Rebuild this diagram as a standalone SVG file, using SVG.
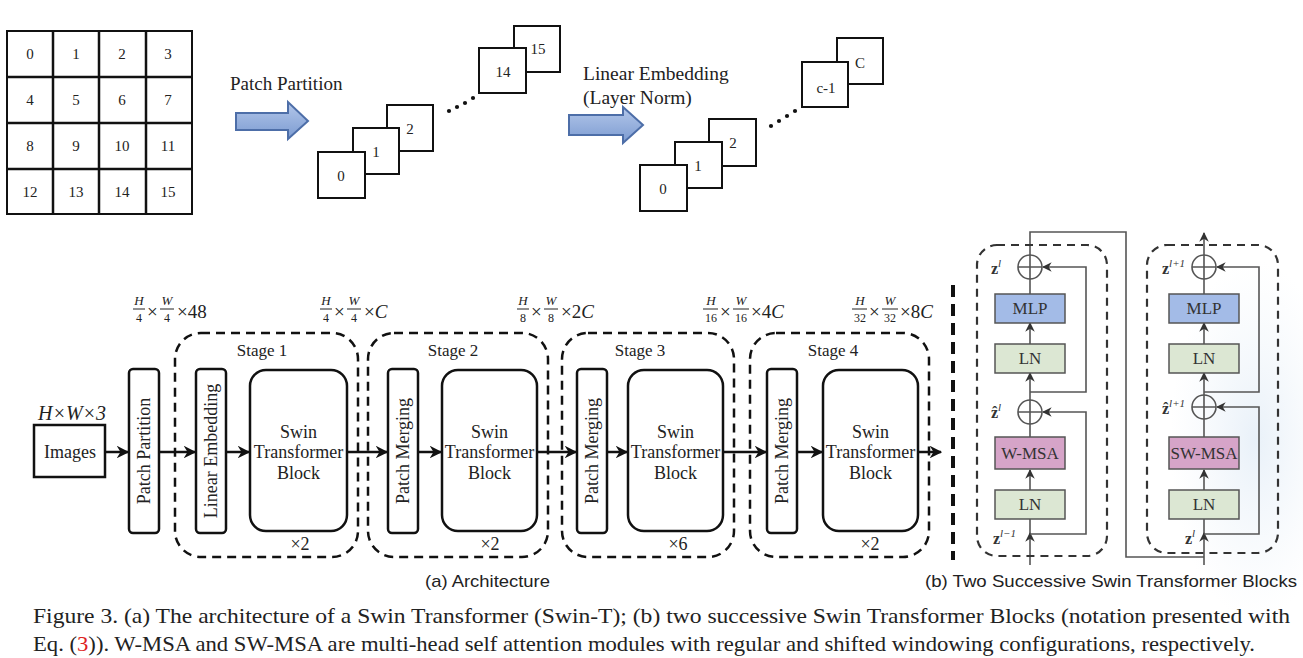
<svg xmlns="http://www.w3.org/2000/svg" width="1303" height="658" viewBox="0 0 1303 658">
<defs>
<style>
.s{font-family:"Liberation Serif","Times New Roman",serif;fill:#222}
.ss{font-family:"Liberation Sans",Arial,sans-serif;fill:#222}
.c{text-anchor:middle}
.box{fill:#fff;stroke:#111;stroke-width:2.5}
.thin{fill:#fff;stroke:#111;stroke-width:2}
.stage{fill:none;stroke:#111;stroke-width:2.5;stroke-dasharray:9 6}
.conn{fill:none;stroke:#111;stroke-width:2.5}
.g{fill:none;stroke:#555;stroke-width:1.6}
.bd{fill:none;stroke:#333;stroke-width:2.2;stroke-dasharray:8 6}
.mlp{fill:#a3bbe7;stroke:#555;stroke-width:1.5}
.ln{fill:#dce7d3;stroke:#555;stroke-width:1.5}
.msa{fill:#d6a4c8;stroke:#555;stroke-width:1.5}
.blk{font-family:"Liberation Serif","Times New Roman",serif;font-size:17px;fill:#333;text-anchor:middle}
.barrow{fill:url(#bg);stroke:#4d6ea8;stroke-width:2}
.fn{font-family:"Liberation Serif",serif;font-style:italic;font-size:13px;text-anchor:middle;fill:#222}
.fd{font-family:"Liberation Serif",serif;font-size:12px;text-anchor:middle;fill:#222}
.fx{font-family:"Liberation Serif",serif;font-size:19px;fill:#222}
.zl{font-family:"Liberation Serif",serif;font-weight:bold;font-size:16px;fill:#333}
</style>
<linearGradient id="bg" x1="0" y1="0" x2="0" y2="1">
<stop offset="0" stop-color="#b3c7ea"/><stop offset="1" stop-color="#7c9bd1"/>
</linearGradient>
<radialGradient id="haze" cx="0.5" cy="0.5" r="0.5">
<stop offset="0" stop-color="#e3edf7" stop-opacity="0.8"/><stop offset="1" stop-color="#eef4fa" stop-opacity="0"/>
</radialGradient>
<marker id="ah" viewBox="0 0 10 10" refX="9" refY="5" markerWidth="5" markerHeight="5" orient="auto" markerUnits="strokeWidth">
<path d="M0,0 L10,5 L0,10 L3,5 z" fill="#111"/>
</marker>
<marker id="ag" viewBox="0 0 10 10" refX="9" refY="5" markerWidth="6" markerHeight="6" orient="auto" markerUnits="strokeWidth">
<path d="M0,0 L10,5 L0,10 L3,5 z" fill="#333"/>
</marker>
</defs>
<rect width="1303" height="658" fill="#fff"/>
<ellipse cx="1255" cy="440" rx="85" ry="180" fill="url(#haze)"/>

<!-- top grid -->
<g id="grid">
<rect x="7" y="31" width="185" height="183" class="thin"/>
<path d="M53,31V214M99,31V214M146,31V214M7,77H192M7,123H192M7,169H192" class="conn" stroke-width="2"/>
<g class="s c" font-size="15">
<text x="30" y="59">0</text><text x="76" y="59">1</text><text x="122" y="59">2</text><text x="168" y="59">3</text>
<text x="30" y="105">4</text><text x="76" y="105">5</text><text x="122" y="105">6</text><text x="168" y="105">7</text>
<text x="30" y="151">8</text><text x="76" y="151">9</text><text x="122" y="151">10</text><text x="168" y="151">11</text>
<text x="30" y="197">12</text><text x="76" y="197">13</text><text x="122" y="197">14</text><text x="168" y="197">15</text>
</g>
</g>

<g id="patch-partition-top">
<text x="230" y="90" class="s" font-size="19">Patch Partition</text>
<path d="M236,113H288V102L308,121L288,139V130H236Z" class="barrow"/>
</g>

<g id="patches">
<rect x="387" y="105" width="46" height="46" class="thin"/>
<rect x="353" y="128" width="46" height="46" class="thin"/>
<rect x="318" y="152" width="47" height="46" class="thin"/>
<rect x="514" y="26" width="46" height="46" class="thin"/>
<rect x="479" y="48" width="47" height="45" class="thin"/>
<g class="s c" font-size="15">
<text x="341" y="181">0</text><text x="376" y="157">1</text><text x="410" y="134">2</text>
<text x="503" y="77">14</text><text x="538" y="54">15</text>
</g>
<g fill="#111"><circle cx="449" cy="111" r="2.1"/><circle cx="457" cy="107" r="2.1"/><circle cx="465" cy="103" r="2.1"/><circle cx="473" cy="98" r="2.1"/></g>
</g>

<g id="linear-embedding-top">
<text x="583" y="80" class="s" font-size="19.5">Linear Embedding</text>
<text x="583" y="104" class="s" font-size="19.5">(Layer Norm)</text>
<path d="M569,115H623V107L643,125L623,143V135H569Z" class="barrow"/>
</g>

<g id="channels">
<rect x="709" y="119" width="47" height="47" class="thin"/>
<rect x="675" y="142" width="47" height="46" class="thin"/>
<rect x="640" y="165" width="47" height="46" class="thin"/>
<rect x="837" y="38" width="46" height="46" class="thin"/>
<rect x="802" y="62" width="46" height="45" class="thin"/>
<g class="s c" font-size="15">
<text x="663" y="194">0</text><text x="698" y="171">1</text><text x="733" y="148">2</text>
<text x="826" y="93">c-1</text><text x="860" y="68">C</text>
</g>
<g fill="#111"><circle cx="771" cy="126" r="2.1"/><circle cx="779" cy="121" r="2.1"/><circle cx="787" cy="116" r="2.1"/><circle cx="795" cy="111" r="2.1"/></g>
</g>

<!-- dimension labels -->
<g id="dims">
<g transform="translate(133,0)">
<text class="fn" x="6" y="305">H</text><line x1="0" y1="309" x2="12" y2="309" stroke="#222"/><text class="fd" x="6" y="322">4</text>
<text class="fx" x="14" y="318">×</text>
<text class="fn" x="34" y="305">W</text><line x1="27" y1="309" x2="41" y2="309" stroke="#222"/><text class="fd" x="34" y="322">4</text>
<text class="fx" x="44" y="318">×48</text>
</g>
<g transform="translate(320,0)">
<text class="fn" x="6" y="305">H</text><line x1="0" y1="309" x2="12" y2="309" stroke="#222"/><text class="fd" x="6" y="322">4</text>
<text class="fx" x="14" y="318">×</text>
<text class="fn" x="34" y="305">W</text><line x1="27" y1="309" x2="41" y2="309" stroke="#222"/><text class="fd" x="34" y="322">4</text>
<text class="fx" x="44" y="318">×<tspan font-style="italic">C</tspan></text>
</g>
<g transform="translate(517,0)">
<text class="fn" x="6" y="305">H</text><line x1="0" y1="309" x2="12" y2="309" stroke="#222"/><text class="fd" x="6" y="322">8</text>
<text class="fx" x="14" y="318">×</text>
<text class="fn" x="34" y="305">W</text><line x1="27" y1="309" x2="41" y2="309" stroke="#222"/><text class="fd" x="34" y="322">8</text>
<text class="fx" x="44" y="318">×2<tspan font-style="italic">C</tspan></text>
</g>
<g transform="translate(703,0)">
<text class="fn" x="8" y="305">H</text><line x1="0" y1="309" x2="15" y2="309" stroke="#222"/><text class="fd" x="8" y="322">16</text>
<text class="fx" x="17" y="318">×</text>
<text class="fn" x="38" y="305">W</text><line x1="30" y1="309" x2="46" y2="309" stroke="#222"/><text class="fd" x="38" y="322">16</text>
<text class="fx" x="48" y="318">×4<tspan font-style="italic">C</tspan></text>
</g>
<g transform="translate(852,0)">
<text class="fn" x="8" y="305">H</text><line x1="0" y1="309" x2="15" y2="309" stroke="#222"/><text class="fd" x="8" y="322">32</text>
<text class="fx" x="17" y="318">×</text>
<text class="fn" x="38" y="305">W</text><line x1="30" y1="309" x2="46" y2="309" stroke="#222"/><text class="fd" x="38" y="322">32</text>
<text class="fx" x="48" y="318">×8<tspan font-style="italic">C</tspan></text>
</g>
</g>

<!-- stages -->
<g id="stage1">
<rect x="175" y="333" width="183" height="224" rx="26" class="stage"/>
<text x="262" y="356" class="s c" font-size="17">Stage 1</text>
<text x="300" y="550" class="s c" font-size="18">×2</text>
</g>
<g id="stage2">
<rect x="368" y="333" width="180" height="224" rx="26" class="stage"/>
<text x="453" y="356" class="s c" font-size="17">Stage 2</text>
<text x="490" y="550" class="s c" font-size="18">×2</text>
</g>
<g id="stage3">
<rect x="562" y="333" width="172" height="224" rx="26" class="stage"/>
<text x="640" y="356" class="s c" font-size="17">Stage 3</text>
<text x="678" y="550" class="s c" font-size="18">×6</text>
</g>
<g id="stage4">
<rect x="750" y="333" width="179" height="224" rx="26" class="stage"/>
<text x="833" y="356" class="s c" font-size="17">Stage 4</text>
<text x="870" y="550" class="s c" font-size="18">×2</text>
</g>

<g id="images">
<text x="72" y="420" class="s c" font-size="20" font-style="italic">H×W×3</text>
<rect x="34" y="425" width="71" height="52" class="box"/>
<text x="70" y="458" class="s c" font-size="18">Images</text>
</g>

<g id="patch-partition">
<rect x="129" y="369" width="30" height="164" rx="4" class="box"/>
<text transform="translate(150,451) rotate(-90)" class="s c" font-size="18">Patch Partition</text>
</g>
<g id="linear-embedding">
<rect x="196" y="369" width="30" height="164" rx="4" class="box"/>
<text transform="translate(217,451) rotate(-90)" class="s c" font-size="18">Linear Embedding</text>
</g>
<g id="stb1">
<rect x="250" y="370" width="97" height="161" rx="16" class="box"/>
<text class="s c" font-size="18"><tspan x="298.5" y="438">Swin</tspan><tspan x="298.5" y="458">Transformer</tspan><tspan x="298.5" y="479">Block</tspan></text>
</g>
<g id="pm2">
<rect x="388" y="369" width="30" height="164" rx="4" class="box"/>
<text transform="translate(409,451) rotate(-90)" class="s c" font-size="18">Patch Merging</text>
</g>
<g id="stb2">
<rect x="442" y="370" width="95" height="161" rx="16" class="box"/>
<text class="s c" font-size="18"><tspan x="489.5" y="438">Swin</tspan><tspan x="489.5" y="458">Transformer</tspan><tspan x="489.5" y="479">Block</tspan></text>
</g>
<g id="pm3">
<rect x="577" y="369" width="30" height="164" rx="4" class="box"/>
<text transform="translate(598,451) rotate(-90)" class="s c" font-size="18">Patch Merging</text>
</g>
<g id="stb3">
<rect x="628" y="370" width="95" height="161" rx="16" class="box"/>
<text class="s c" font-size="18"><tspan x="675.5" y="438">Swin</tspan><tspan x="675.5" y="458">Transformer</tspan><tspan x="675.5" y="479">Block</tspan></text>
</g>
<g id="pm4">
<rect x="767" y="369" width="30" height="164" rx="4" class="box"/>
<text transform="translate(788,451) rotate(-90)" class="s c" font-size="18">Patch Merging</text>
</g>
<g id="stb4">
<rect x="823" y="370" width="95" height="161" rx="16" class="box"/>
<text class="s c" font-size="18"><tspan x="870.5" y="438">Swin</tspan><tspan x="870.5" y="458">Transformer</tspan><tspan x="870.5" y="479">Block</tspan></text>
</g>

<g id="connectors">
<line x1="105" y1="452" x2="128" y2="452" class="conn" marker-end="url(#ah)"/>
<line x1="159" y1="452" x2="195" y2="452" class="conn" marker-end="url(#ah)"/>
<line x1="226" y1="452" x2="249" y2="452" class="conn" marker-end="url(#ah)"/>
<line x1="347" y1="452" x2="387" y2="452" class="conn" marker-end="url(#ah)"/>
<line x1="418" y1="452" x2="441" y2="452" class="conn" marker-end="url(#ah)"/>
<line x1="537" y1="452" x2="576" y2="452" class="conn" marker-end="url(#ah)"/>
<line x1="607" y1="452" x2="627" y2="452" class="conn" marker-end="url(#ah)"/>
<line x1="723" y1="452" x2="766" y2="452" class="conn" marker-end="url(#ah)"/>
<line x1="797" y1="452" x2="822" y2="452" class="conn" marker-end="url(#ah)"/>
<line x1="918" y1="452" x2="941" y2="452" class="conn" marker-end="url(#ah)"/>
<!-- right panel lines -->
<path d="M1030,565V533" class="g" marker-end="url(#ag)"/>
<path d="M1030,533V518" class="g"/>
<path d="M1030,490V470" class="g" marker-end="url(#ag)"/>
<path d="M1030,437V424" class="g"/>
<path d="M1030,400V373" class="g" marker-end="url(#ag)"/>
<path d="M1030,344V323" class="g" marker-end="url(#ag)"/>
<path d="M1030,294V279" class="g"/>
<path d="M1030,534H1086V412H1043" class="g" marker-end="url(#ag)"/>
<path d="M1030,392H1086V267H1043" class="g" marker-end="url(#ag)"/>
<path d="M1030,255V232H1126V557H1204" class="g"/>
<path d="M1204,565V533" class="g" marker-end="url(#ag)"/>
<path d="M1204,533V518" class="g"/>
<path d="M1204,490V470" class="g" marker-end="url(#ag)"/>
<path d="M1204,437V419" class="g"/>
<path d="M1204,395V373" class="g" marker-end="url(#ag)"/>
<path d="M1204,344V323" class="g" marker-end="url(#ag)"/>
<path d="M1204,294V279" class="g"/>
<path d="M1204,534H1259V407H1217" class="g" marker-end="url(#ag)"/>
<path d="M1204,392H1259V267H1217" class="g" marker-end="url(#ag)"/>
<path d="M1204,255V233" class="g" marker-end="url(#ag)"/>
</g>

<g id="separator">
<line x1="953" y1="285" x2="953" y2="560" stroke="#111" stroke-width="4" stroke-dasharray="12 7"/>
</g>

<g id="block1">
<rect x="977" y="245" width="130" height="311" rx="20" class="bd"/>
<circle cx="1030" cy="267" r="12" fill="none" stroke="#555" stroke-width="1.6"/>
<path d="M1018,267H1042M1030,255V279" class="g"/>
<circle cx="1030" cy="412" r="12" fill="none" stroke="#555" stroke-width="1.6"/>
<path d="M1018,412H1042M1030,400V424" class="g"/>
<rect x="995" y="294" width="70" height="29" class="mlp"/><text x="1030" y="314" class="blk">MLP</text>
<rect x="995" y="344" width="70" height="29" class="ln"/><text x="1030" y="364" class="blk">LN</text>
<rect x="995" y="437" width="70" height="32" class="msa"/><text x="1030" y="459" class="blk">W-MSA</text>
<rect x="995" y="490" width="70" height="29" class="ln"/><text x="1030" y="510" class="blk">LN</text>
<text x="991" y="274" class="zl">z<tspan font-style="italic" font-weight="normal" font-size="11" dy="-7">l</tspan></text>
<text x="991" y="418" class="zl">ẑ<tspan font-style="italic" font-weight="normal" font-size="11" dy="-7">l</tspan></text>
<text x="993" y="544" class="zl">z<tspan font-style="italic" font-weight="normal" font-size="11" dy="-7">l−1</tspan></text>
</g>

<g id="block2">
<rect x="1147" y="245" width="131" height="308" rx="20" class="bd"/>
<circle cx="1204" cy="267" r="12" fill="none" stroke="#555" stroke-width="1.6"/>
<path d="M1192,267H1216M1204,255V279" class="g"/>
<circle cx="1204" cy="407" r="12" fill="none" stroke="#555" stroke-width="1.6"/>
<path d="M1192,407H1216M1204,395V419" class="g"/>
<rect x="1169" y="294" width="70" height="29" class="mlp"/><text x="1204" y="314" class="blk">MLP</text>
<rect x="1169" y="344" width="70" height="29" class="ln"/><text x="1204" y="364" class="blk">LN</text>
<rect x="1169" y="437" width="70" height="32" class="msa"/><text x="1204" y="459" class="blk">SW-MSA</text>
<rect x="1169" y="490" width="70" height="29" class="ln"/><text x="1204" y="510" class="blk">LN</text>
<text x="1162" y="274" class="zl">z<tspan font-style="italic" font-weight="normal" font-size="11" dy="-7">l+1</tspan></text>
<text x="1162" y="414" class="zl">ẑ<tspan font-style="italic" font-weight="normal" font-size="11" dy="-7">l+1</tspan></text>
<text x="1185" y="544" class="zl">z<tspan font-style="italic" font-weight="normal" font-size="11" dy="-7">l</tspan></text>
</g>

<g id="captions">
<text x="425" y="587" class="ss" font-size="17" textLength="125" lengthAdjust="spacingAndGlyphs">(a) Architecture</text>
<text x="925" y="587" class="ss" font-size="17" textLength="372" lengthAdjust="spacingAndGlyphs">(b) Two Successive Swin Transformer Blocks</text>
<text x="33" y="623" class="s" font-size="21.5" textLength="1257" lengthAdjust="spacingAndGlyphs">Figure 3. (a) The architecture of a Swin Transformer (Swin-T); (b) two successive Swin Transformer Blocks (notation presented with</text>
<text x="33" y="651" class="s" font-size="21.5" textLength="1222" lengthAdjust="spacingAndGlyphs">Eq. (<tspan fill="#d22">3</tspan>)). W-MSA and SW-MSA are multi-head self attention modules with regular and shifted windowing configurations, respectively.</text>
</g>
</svg>
